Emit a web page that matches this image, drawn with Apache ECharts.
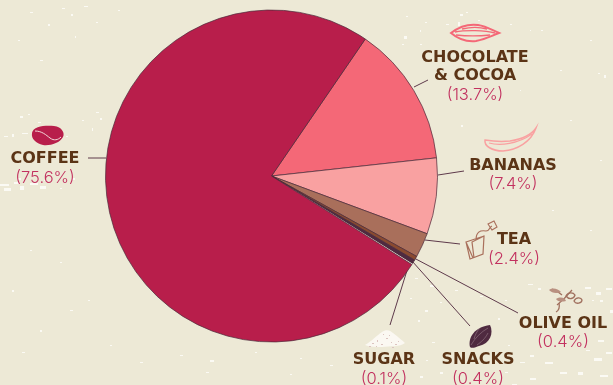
<!DOCTYPE html>
<html>
<head>
<meta charset="utf-8">
<style>html,body{margin:0;padding:0;background:#ede9d6}#chart{width:613px;height:385px}</style>
<script src="https://cdn.jsdelivr.net/npm/echarts@6/dist/echarts.min.js"></script>
</head>
<body>
<div id="chart"></div>
<script>
// Clockwise from the cocoa wedge, shares in percent
const categories = ['CHOCOLATE\n& COCOA', 'BANANAS', 'TEA', 'OLIVE OIL', 'SNACKS', 'SUGAR', 'COFFEE'];
const shares = [13.7, 7.4, 2.4, 0.4, 0.4, 0.1, 75.6];
const sliceColors = ['#f46877', '#f9a1a1', '#a96f5b', '#8a4a30', '#4f2a40', '#f6f1e6', '#b81e4b'];

// Label block centres and their leader lines
const labelCentres = [[475, 77], [513, 175.5], [514, 250], [563, 333.5], [478, 370], [384, 370], [45, 169]];
const leaders = [
  [[414, 87], [428, 80]],
  [[438, 175], [464, 171]],
  [[425, 240], [460, 244]],
  [[414, 258], [518, 313]],
  [[412, 261], [470, 326]],
  [[409, 264], [390, 325]],
  [[106, 158], [88, 158]]
];

// Worn-paper flecks: x, y, width, height
const flecks = [
  [62,8,3,1],[71,14,2,2],[84,6,4,1],[96,22,2,1],[48,24,2,2],[30,12,3,1],[118,10,2,1],[18,40,2,1],[75,36,1,2],[40,60,3,1],
  [4,136,4,1],[12,134,2,3],[22,133,6,1],[38,122,3,1],[60,131,2,2],[66,136,2,1],[20,116,3,2],[28,114,2,1],[100,118,2,2],[92,128,1,3],
  [0,184,9,2],[4,188,7,3],[14,182,5,2],[20,186,4,4],[30,183,8,2],[18,178,3,2],[40,186,6,3],[44,180,3,1],[60,188,2,1],[72,178,3,2],[96,112,3,1],[82,120,2,1],
  [460,14,3,2],[458,22,2,4],[466,12,2,1],[425,22,2,1],[404,36,3,3],[402,44,2,1],[420,30,1,2],[446,24,3,1],[478,20,2,1],[510,24,2,1],[530,30,1,1],[541,30,2,1],[420,44,2,1],[406,16,2,1],
  [461,125,2,2],[560,70,2,1],[598,73,2,1],[604,75,2,3],[590,40,2,1],[520,90,1,1],[570,120,2,1],[600,160,2,1],[552,210,2,1],[590,230,2,1],
  [528,284,5,1],[538,288,3,2],[585,287,6,2],[596,292,5,3],[606,288,6,2],[600,300,3,2],[592,300,2,1],[610,310,3,3],[586,350,4,1],[598,340,6,2],[594,358,8,3],[606,352,6,2],[530,355,4,2],[520,362,5,1],[545,362,8,2],[560,372,7,2],[578,372,5,3],[600,375,8,2],[530,378,6,2],
  [415,278,3,1],[430,285,4,2],[455,290,3,1],[440,302,2,1],[425,310,3,2],[410,298,2,1],[480,296,3,1],[505,300,2,1],[498,318,2,2],[508,345,2,1],[432,342,3,1],[418,320,2,2],[426,360,2,1],[440,372,3,2],[420,376,3,2],[505,372,3,1],[512,384,5,1],
  [88,300,2,1],[70,310,3,1],[40,330,2,2],[22,352,3,1],[110,345,2,1],[140,362,3,1],[180,355,3,1],[210,360,4,2],[206,372,3,1],[255,352,2,1],[300,358,2,1],[330,365,3,1],[290,374,2,1],[30,250,2,1],[60,262,2,1],[12,290,2,2]
];

// Grain inside the sugar heap: x, y, width, height
const sugarGrain = [
  [372,343,2,1],[377,340,1,2],[381,344,2,1],[386,338,2,1],[391,342,1,1],[395,344,2,1],[383,334,1,1],[389,335,1,1],[398,341,1,1],[369,346,2,1],[376,346,1,1],[392,347,2,1]
];

const chart = echarts.init(document.getElementById('chart'), null, { renderer: 'canvas' });

const boxes = list => list.map(([x, y, w, h]) => `M${x} ${y}h${w}v${h}h${-w}Z`).join('');
const icon = (pathData, style) => ({ type: 'path', shape: { pathData }, style, silent: true });

// Paper flecks and the small product drawings beside each label
const artwork = [
  icon(boxes(flecks), { fill: '#fbfaf4' }),
  // coffee bean
  icon('M32 133C33 126 46 125 54 126C62 127 65 133 63 137C60 143 50 146 43 145C36 143 31 139 32 133Z', { fill: '#b81e4b' }),
  icon('M35 131C42 131 46 135 50 138C54 141 58 140 61 137', { fill: 'none', stroke: '#f4d9d9', lineWidth: 1 }),
  // cocoa pod
  icon('M451 33C460 26 470 24 478 25C486 26 492 30 499 33C491 36 486 39 476 41C466 42 458 39 451 33Z', { fill: 'none', stroke: '#f46877', lineWidth: 2 }),
  icon('M455 32C465 30 485 30 495 33M456 35C466 36 480 36 490 35M462 29C470 27 480 27 487 29', { fill: 'none', stroke: '#f46877', lineWidth: 1.4 }),
  // banana
  icon('M485 140C484 146 492 151 503 151C517 150 531 142 536 128C532 134 522 139 510 141C500 142 491 141 485 140Z', { fill: 'none', stroke: '#f9a1a1', lineWidth: 1.5 }),
  icon('M489 143C500 146 518 144 532 134', { fill: 'none', stroke: '#f9a1a1', lineWidth: 1.2 }),
  // tea bag
  icon('M466 242L484 236L483 254L470 259Z M466 242L473 258 M484 236L472 242L474 258 M476 240C476 232 480 230 486 231C490 231 489 227 492 226', { fill: 'none', stroke: '#a96f5b', lineWidth: 1.2 }),
  icon('M488 224L494 221L497 227L492 230Z', { fill: 'none', stroke: '#a96f5b', lineWidth: 1.1 }),
  // olive branch
  icon('M557 305C562 301 567 296 572 290M552 289C556 291 559 292 562 295', { fill: 'none', stroke: '#a0705e', lineWidth: 1.2 }),
  icon('M549 290C553 287 558 289 561 292C556 294 552 293 549 290ZM556 299C561 296 565 298 566 301C562 302 558 302 556 299Z', { fill: '#b99080' }),
  icon('M566 296C568 292 573 292 575 295C574 299 569 300 566 296ZM574 301C576 297 581 297 582 300C582 303 576 305 574 301ZM559 303C560 308 558 311 556 312', { fill: 'none', stroke: '#a0705e', lineWidth: 1.3 }),
  // almond
  icon('M470 347C468 338 474 327 490 325C494 333 490 344 479 346C476 347 472 349 470 347Z', { fill: '#4f2a40' }),
  icon('M471 345C475 338 481 332 488 328M474 339C475 335 477 331 480 328M477 345C481 342 485 339 488 333', { fill: 'none', stroke: '#8d6f7d', lineWidth: 0.7 }),
  // sugar heap
  icon('M365 345C372 341 376 336 382 332C386 329 390 330 393 333C398 337 402 340 405 343C400 347 390 346 382 347C376 347 370 347 365 345Z', { fill: '#fbf8f2' }),
  icon(boxes(sugarGrain), { fill: '#dcc4c0' })
];

const option = {
  animation: false,
  backgroundColor: '#ede9d6',
  series: [{
    type: 'custom',
    coordinateSystem: 'none',
    silent: true,
    z: 0,
    data: [[0]],
    renderItem: () => ({ type: 'group', children: artwork })
  }, {
    type: 'pie',
    z: 2,
    center: [271.5, 176],
    radius: [0, 166],
    startAngle: 55.6,
    clockwise: true,
    silent: true,
    data: categories.map((name, i) => ({
      name,
      value: shares[i],
      itemStyle: {
        color: sliceColors[i],
        borderColor: '#4b2a3a',
        borderWidth: name === 'SUGAR' ? 0 : 0.7
      }
    })),
    label: {
      show: true,
      position: 'outside',
      formatter: p => p.name.split('\n').map(t => `{n|${t}}`).join('\n') + `\n{p|(${p.value.toFixed(1)}%)}`,
      rich: {
        n: { fontFamily: 'DejaVu Sans', fontSize: 16, fontWeight: 'bold', color: '#5b3416', lineHeight: 18, align: 'center' },
        p: { fontFamily: 'Inter', fontSize: 16.5, fontWeight: 300, color: '#c2315f', lineHeight: 20, align: 'center' }
      }
    },
    labelLine: { show: true, length: 10, length2: 10, lineStyle: { color: '#5e3a4b', width: 1 } },
    labelLayout: params => {
      const [x, y] = labelCentres[params.dataIndex];
      const [a, b] = leaders[params.dataIndex];
      return { x, y, align: 'center', verticalAlign: 'middle', hideOverlap: false, labelLinePoints: [a, a, b] };
    }
  }]
};
chart.setOption(option);
</script>
</body>
</html>
